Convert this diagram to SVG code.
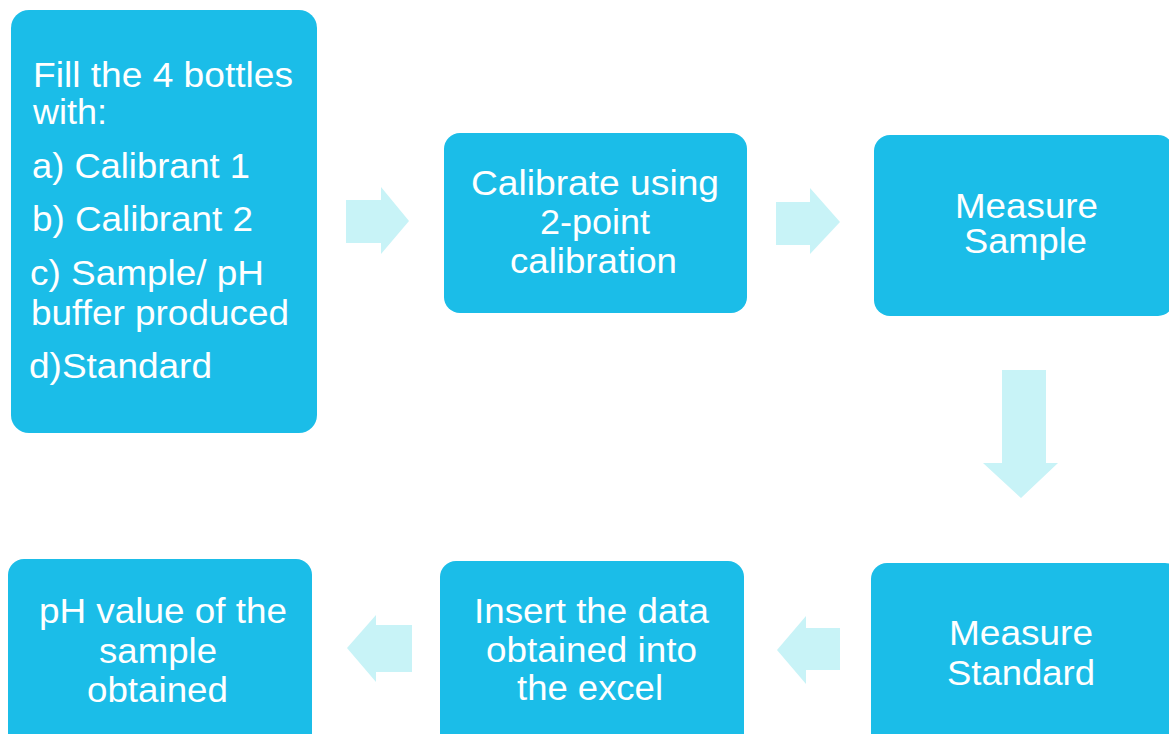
<svg xmlns="http://www.w3.org/2000/svg" width="1169" height="734" viewBox="0 0 1169 734">
  <style>
    .box { fill: #1bbde8; }
    .lbl { font-family: "Liberation Sans", Arial, sans-serif; font-size: 35px; fill: #ffffff; }
    .arrow { fill: #c8f3f7; }
  </style>
  <rect width="1169" height="734" fill="#ffffff"/>

  <!-- flow arrows -->
  <g id="connectors">
    <polygon class="arrow" points="346,200 381,200 381,187 409,221 381,254 381,243 346,243"/>
    <polygon class="arrow" points="776,202 810,202 810,188 840,222 810,254 810,245 776,245"/>
    <polygon class="arrow" points="1002,370 1046,370 1046,463 1058,463 1021,498 983,463 1002,463"/>
    <polygon class="arrow" points="840,628 806,628 806,616 777,650 806,684 806,670 840,670"/>
    <polygon class="arrow" points="412,625 376,625 376,615 347,648 376,682 376,672 412,672"/>
  </g>

  <g id="fill-bottles">
    <rect class="box" x="11" y="10" width="306" height="423" rx="18"/>
    <text class="lbl" x="33" y="87" textLength="260" lengthAdjust="spacingAndGlyphs">Fill the 4 bottles</text>
    <text class="lbl" x="33" y="124" textLength="74" lengthAdjust="spacingAndGlyphs">with:</text>
    <text class="lbl" x="32" y="178" textLength="218" lengthAdjust="spacingAndGlyphs">a) Calibrant 1</text>
    <text class="lbl" x="32" y="231" textLength="221" lengthAdjust="spacingAndGlyphs">b) Calibrant 2</text>
    <text class="lbl" x="30" y="285" textLength="234" lengthAdjust="spacingAndGlyphs">c) Sample/ pH</text>
    <text class="lbl" x="31" y="325" textLength="258" lengthAdjust="spacingAndGlyphs">buffer produced</text>
    <text class="lbl" x="29" y="378" textLength="183" lengthAdjust="spacingAndGlyphs">d)Standard</text>
  </g>

  <g id="calibrate">
    <rect class="box" x="444" y="133" width="303" height="180" rx="16"/>
    <text class="lbl" x="471" y="195" textLength="248" lengthAdjust="spacingAndGlyphs">Calibrate using</text>
    <text class="lbl" x="540" y="234" textLength="110" lengthAdjust="spacingAndGlyphs">2-point</text>
    <text class="lbl" x="510" y="273" textLength="167" lengthAdjust="spacingAndGlyphs">calibration</text>
  </g>

  <g id="measure-sample">
    <rect class="box" x="874" y="135" width="300" height="181" rx="16"/>
    <text class="lbl" x="955" y="218" textLength="143" lengthAdjust="spacingAndGlyphs">Measure</text>
    <text class="lbl" x="964" y="253" textLength="123" lengthAdjust="spacingAndGlyphs">Sample</text>
  </g>

  <g id="measure-standard">
    <rect class="box" x="871" y="563" width="310" height="190" rx="16"/>
    <text class="lbl" x="949" y="645" textLength="144" lengthAdjust="spacingAndGlyphs">Measure</text>
    <text class="lbl" x="947" y="685" textLength="148" lengthAdjust="spacingAndGlyphs">Standard</text>
  </g>

  <g id="insert-data">
    <rect class="box" x="440" y="561" width="304" height="190" rx="16"/>
    <text class="lbl" x="474" y="623" textLength="235" lengthAdjust="spacingAndGlyphs">Insert the data</text>
    <text class="lbl" x="486" y="662" textLength="211" lengthAdjust="spacingAndGlyphs">obtained into</text>
    <text class="lbl" x="517" y="700" textLength="146" lengthAdjust="spacingAndGlyphs">the excel</text>
  </g>

  <g id="ph-value">
    <rect class="box" x="8" y="559" width="304" height="192" rx="16"/>
    <text class="lbl" x="39" y="623" textLength="248" lengthAdjust="spacingAndGlyphs">pH value of the</text>
    <text class="lbl" x="99" y="663" textLength="118" lengthAdjust="spacingAndGlyphs">sample</text>
    <text class="lbl" x="87" y="702" textLength="141" lengthAdjust="spacingAndGlyphs">obtained</text>
  </g>
</svg>
